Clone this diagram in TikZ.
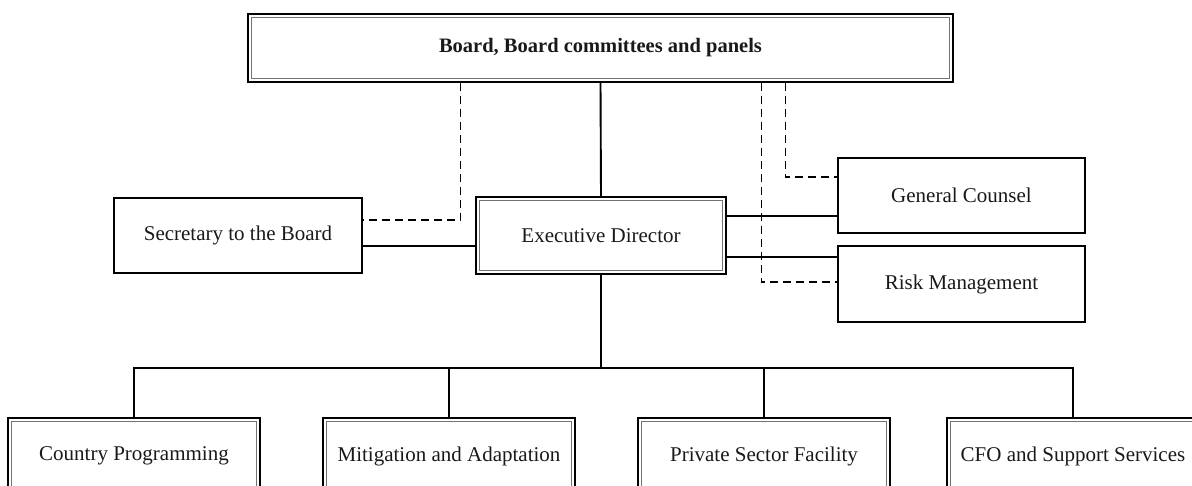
\documentclass[tikz,border=0pt]{standalone}
\usepackage{fontspec}
\setmainfont{Liberation Serif}
\begin{document}
\begin{tikzpicture}[x=1pt,y=-1pt,
  box/.style={draw=black, line width=1.1pt, rectangle, inner sep=0pt,
    font=\fontsize{21}{24}\selectfont, text=black!90},
  dbox/.style={box},
  innerline/.style={draw=black!55, line width=1.1pt},
  conn/.style={draw=black, line width=1.9pt},
  dashline/.style={draw=black, line width=1.9pt, dash pattern=on 8pt off 5pt}]
\useasboundingbox (0,0) rectangle (1192,486);
\clip (0,0) rectangle (1192,486);

% top level
\node[dbox, minimum width=705pt, minimum height=68pt,
      font=\fontsize{20.5}{24}\selectfont\bfseries] (board) at (600.5,48)
  {Board, Board committees and panels};

% middle row
\node[dbox, minimum width=250pt, minimum height=77pt] (ed) at (601,235.5) {Executive Director};
\node[box, minimum width=248pt, minimum height=75pt] (sec) at (238,235.5) {Secretary to the Board};
\node[box, minimum width=247pt, minimum height=75pt] (gc) at (961.5,195.5) {General Counsel};
\node[box, minimum width=247pt, minimum height=76pt] (rm) at (961.5,284) {Risk Management};

% divisions
\node[dbox, minimum width=252pt, minimum height=76pt] (cp)  at (134,456)  {Country Programming};
\node[dbox, minimum width=252pt, minimum height=76pt] (ma)  at (449,456)  {Mitigation and Adaptation};
\node[dbox, minimum width=252pt, minimum height=76pt] (psf) at (764,456)  {Private Sector Facility};
\node[dbox, minimum width=252pt, minimum height=76pt] (cfo) at (1073,456) {CFO and Support Services};

% inner frame of the double-bordered boxes
\foreach \n in {board,ed,cp,ma,psf,cfo}
  \draw[innerline] ([shift={(4,4)}]\n.north west) rectangle ([shift={(-4,-4)}]\n.south east);

% reporting lines
\draw[conn] (board.south) -- (ed.north);
\coordinate (s1) at ([yshift=-10.5pt]sec.east);
\draw[conn] (s1) -- (ed.west |- s1);
\coordinate (e1) at ([yshift=19.5pt]ed.east);
\coordinate (e2) at ([yshift=-21.5pt]ed.east);
\draw[conn] (e1) -- (gc.west |- e1);
\draw[conn] (e2) -- (rm.west |- e2);

% dotted-line reporting to the Board
\path (board.south west) ++(213,0) coordinate (b1)
      (board.south west) ++(514,0) coordinate (b2)
      (board.south west) ++(538,0) coordinate (b3);
\draw[dashline] (b1) |- ([yshift=15.5pt]sec.east);
\draw[dashline] (b3) |- ([yshift=18.5pt]gc.west);
\draw[dashline] (b2) |- ([yshift=2pt]rm.west);

% bus to the divisions
\coordinate (bus) at (598,368);
\draw[conn] (ed.south) -- (ed.south |- bus);
\draw[conn] (cp.north) -- (cp.north |- bus) -- (cfo.north |- bus) -- (cfo.north);
\draw[conn] (ma.north) -- (ma.north |- bus);
\draw[conn] (psf.north) -- (psf.north |- bus);
\end{tikzpicture}
\end{document}
